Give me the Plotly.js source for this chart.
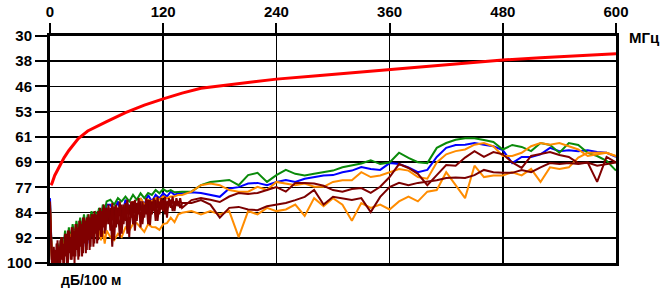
<!DOCTYPE html>
<html>
<head>
<meta charset="utf-8">
<script src="https://cdn.plot.ly/plotly-3.0.1.min.js"></script>
<style>html,body{margin:0;padding:0;background:#fff;}#chart{width:672px;height:289px;}</style>
</head>
<body>
<div id="chart"></div>
<script>
// Frequency grids (MHz)
const freqLow = [0,2,4,6,8,10,12,14,16,18,20,22,24,26,28,30,32,34,36,38,40,42,44,46,48,50,52,54,56,58,60];
const freqMid = [64,68,72,76,80,84,88,92,96,100,104,108,112,116,120,124,128,132,136,140];
const freqHigh = [150,160,170,180,190,200,210,220,230,240,250,260,270,280,290,300,310,320,330,340,350,360,370,380,390,400,410,420,430,440,450,460,470,480,490,500,510,520,530,540,550,560,570,580,590,600];
const freq = freqLow.concat(freqMid, freqHigh);
// finer grid used by the dark red curves
const freqFineLow = [0,1,2,3,4,5,6,7,8,9,10,11,12,13,14,15,16,17,18,19,20,21,22,23,24,25,26,27,28,29,30,31,32,33,34,35,36,37,38,39,40,41,42,43,44,45,46,47,48,49,50,51,52,53,54,55,56,57,58,59,60];
const freqFineMid = [62,64,66,68,70,72,74,76,78,80,82,84,86,88,90,92,94,96,98,100,102,104,106,108,110,112,114,116,118,120,122,124,126,128,130,132,134,136,138,140];
const freqFine = freqFineLow.concat(freqFineMid, freqHigh);

// Measured curves (dB/100 m)
const blue = [80,99,97,100,95,98,93,97,91,96,90,95,89,94,88,96,87,93,86,95,86,94,85,92,85,89,84,88,83,86,82,
  82,84,81,86,80.5,83,81,85,80,82,79,81,79,80,78.5,79.5,78,79,78.5,78.5,
  78.2,78.4,79,79.6,77,76.6,75.5,75.3,76,75, 74.4,75,74,73.5,73,72.9,72,71.5,70.4,71,
  71.3,69.2,69.5,70.5,72,71.3,67.3,64.5,63.6,63.5, 63,63.5,64,65.2,69.2,67.3,67.3,66.5,64.5,65.5,
  65.2,65.5,65.2,65.8,66,67.3];
const green = [82,98,96,99,94,97,92,96,90,95,89,93,88,92,87,91,86,90,85,89,85,88,84,87,84,86,83,86,82,84,81,
  80.5,82,80,81,79.5,81,79,80.5,78.5,80,78.4,79,77.5,78.5,77.2,78,77.5,78.2,78,78,
  78,76,75,74.6,74.4,76,72.9,72.2,75,72.9, 71.3,72.5,73,72.5,72,71.5,70.5,70,69.3,68.3,
  69.5,69,66,67.6,68.9,69.2,64.5,63,62,61.5, 61.5,62.1,62.7,65,63.6,64.2,65.5,63,63.6,66,
  63,63.6,66,67,68.5,71.5];
const orangeA = [83,99,98,97,99,95,98,94,97,92,96,91,95,90,94,89,92,88,91,87,90,87,89,86,88,85,87,85,86,84,85,
  84,87,83,85,82,84,81,83,80,82,80.5,81,80,80.5,79.5,80,79.5,79.5,79,79,
  78,76,75.5,76,77.5,78,78,76.5,77.5,75, 75.5,76,75.5,76.5,76.5,75,74.5,74.5,72,73.5,
  73,72,71,71.5,73.5,74,69,66.5,65.5,65, 63.5,63,64,67,67,66,64,63,63.5,63,
  64,65,67,66.5,66,67];
const orangeB = [83,99,97,99,96,98,94,97,92,96,91,95,90,94,89,93,88,92,88,91,87,92,87,91,88,92,89,93,90,94,90,
  92,93,91,92,89,90,88,87.7,89,90.4,88,88.9,89,89.8,88,87.7,86,87.4,85,84.5,
  84,85,84,85,84,92,84,85,83,84, 83.5,82,85.5,80,82.5,80,82,87,81.5,83,
  82,83.5,81,79.5,81,78,77.5,72,76,80, 70,73.5,73,73,72,73,71,75,70.5,71,
  70.5,67.5,66,66,66,67];
const maroonB = [84,95,99,100,95,100,97,100,93,100,96,100,92,98,95,100,91,97,94,100,90,96,93,99,89,97,92,98,88,95,
  91,98,87,94,90,97,86,93,89,96,86,92,88,95,85,91,87,94,85,90,86,93,84,89,86,92,83,88,85,90,83,
  88,83,95,82.5,89,83,92,82,88,81.5,91,82,86,81,90,81.5,85,81,88,82,85,80.5,88.3,81,84,80.5,87,81,83.5,80.5,85,81,82.5,80.5,84,81,82,81,83,81.5,
  81.5,80.6,82,86,83,82.7,83.5,83.7,82.5,82, 81.5,80.6,79.6,77.5,82,79.6,80,80.6,80,84.3,
  79.6,76.6,75.3,76,75.3,75,74.5,73.8,73.6,73.8, 72.9,71.3,72,72.2,72.2,71.3,72,70.5,69.2,69.5,
  69.2,69.5,69,70,69.5,69];
const maroonA = [81,90,100,97,100,96,100,94,99,95,100,93,99,92,100,94,98,91,100,90,97,92,99,89,98,90,100,88,96,89,
  99,87,95,88,98,86,94,87,97,86,93,85,96,86,92,85,95,84,91,85,94,84,90,83,92,84,89,82,91,83,88,
  82,90,81.5,93,82,88,81,91,82,87,80.5,92,81,88,80.5,87,80,89,81,86,80,88,80.5,85,80,87,79.5,85,80,84,79.5,86,80,83,79.5,84,80,82.5,80,83,
  80.6,80,80.5,81.2,79.5,78.4,78.7,78.4,77.5,76.6, 78,75.3,75.3,75.5,76.2,77.5,78,77.2,76.9,78.4,
  76.5,73.5,69.5,70.7,72.5,76,72.9,69.8,70,67.5, 65.5,67.3,65.8,66.5,69,70.7,67,66.5,65.8,66.7,
  67.3,69.2,69,75,67.3,69];

// Reference attenuation curve
const redFreq = [1,2,5,10,15,20,25,30,40,50,60,80,100,120,140,160,200,240,280,320,360,400,440,480,520,560,600];
const redVal = [76,75.5,73,70,67.5,65.3,63.3,61.6,59.3,57.8,56.4,53.6,51.3,49.4,47.6,46.1,44.6,43.3,42.3,41.3,40.2,39.2,38.2,37.4,36.7,36.1,35.5];

// Axis ticks
const xTicks = [0,120,240,360,480,600];
const yTickText = ['30','38','46','53','61','69','77','84','92','100'];
const yTicks = yTickText.map((t,i)=>30 + 70*i/9);

const series = [
  {x: freq, y: blue, color: '#0000ff'},
  {x: freq, y: green, color: '#0a8a0a'},
  {x: freq, y: orangeA, color: '#ff8c00'},
  {x: freq, y: orangeB, color: '#ff8c00'},
  {x: freqFine, y: maroonB, color: '#7a0000'},
  {x: freqFine, y: maroonA, color: '#800000'}
];
const traces = series.map(s => ({
  x: s.x, y: s.y, type: 'scatter', mode: 'lines',
  line: {color: s.color, width: 2}, hoverinfo: 'skip', showlegend: false
}));
traces.push({x: redFreq, y: redVal, type: 'scatter', mode: 'lines',
  line: {color: '#ff0000', width: 3}, hoverinfo: 'skip', showlegend: false});

const tickFont = {family: 'Liberation Sans, Arial, sans-serif', size: 15, color: '#000', weight: 'bold'};
const layout = {
  width: 672, height: 289,
  margin: {l: 50, r: 56, t: 36, b: 26},
  paper_bgcolor: '#fff', plot_bgcolor: '#fff',
  showlegend: false,
  xaxis: {
    side: 'top', range: [0, 600], tickvals: xTicks, ticktext: xTicks.map(String),
    ticks: 'outside', ticklen: 10, tickwidth: 2, tickcolor: '#000',
    showgrid: true, gridcolor: '#000', gridwidth: 1.5,
    showline: true, linewidth: 3, linecolor: '#000', mirror: true,
    zeroline: false, tickfont: tickFont, fixedrange: true
  },
  yaxis: {
    range: [100, 30], tickvals: yTicks, ticktext: yTickText,
    ticks: 'outside', ticklen: 12, tickwidth: 2, tickcolor: '#000',
    showgrid: true, gridcolor: '#000', gridwidth: 1.5,
    showline: true, linewidth: 3, linecolor: '#000', mirror: true,
    zeroline: false, tickfont: tickFont, fixedrange: true
  },
  annotations: [
    {text: 'МГц', xref: 'paper', yref: 'paper', x: 1.02, y: 0.995, xanchor: 'left', yanchor: 'middle',
     showarrow: false, font: {family: 'Liberation Sans, Arial, sans-serif', size: 15, color: '#000', weight: 'bold'}},
    {text: 'дБ/100 м', xref: 'paper', yref: 'paper', x: 0.016, y: -0.075, xanchor: 'left', yanchor: 'middle',
     showarrow: false, font: {family: 'Liberation Sans, Arial, sans-serif', size: 14, color: '#000', weight: 'bold'}}
  ]
};
Plotly.newPlot('chart', traces, layout, {staticPlot: true, displayModeBar: false});
</script>
</body>
</html>
